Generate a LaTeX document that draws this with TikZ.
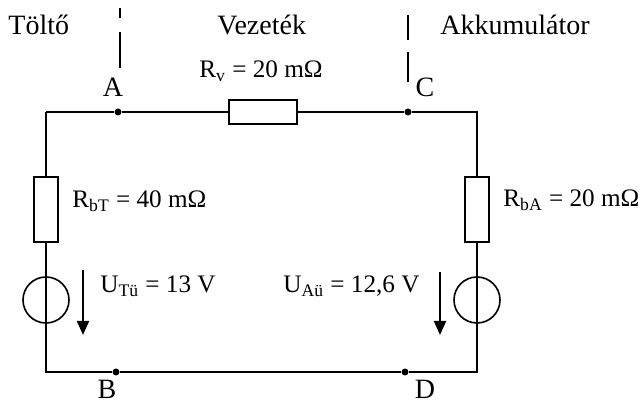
\documentclass[tikz,border=0pt]{standalone}
\usepackage{fontspec}
\setmainfont{Liberation Serif}
\usetikzlibrary{arrows.meta,positioning}
\tikzset{
  wire/.style={line width=1pt},
  res/.style={ % resistor box
    draw, rectangle, line width=0.8pt, fill=white, inner sep=0pt
  },
  hres/.style={res, minimum width=34pt, minimum height=12pt},
  vres/.style={res, minimum width=12pt, minimum height=32.5pt},
  source/.style={ % ideal voltage source
    draw, circle, line width=0.8pt, minimum size=23pt, inner sep=0pt
  },
  junction/.style={circle, fill=black, minimum size=3.5pt, inner sep=0pt},
  lbl/.style={inner sep=0pt, font=\fontsize{14}{16}\selectfont},
  vlbl/.style={inner sep=0pt, font=\fontsize{12.6}{15}\selectfont},
  uarrow/.style={line width=1pt, -{Triangle[length=7pt,width=6pt]}},
  divider/.style={line width=0.6pt}
}

\begin{document}
\begin{tikzpicture}[x=0.5pt, y=-0.5pt]
  \useasboundingbox (0,0) rectangle (643,405);

  % corners of the loop
  \coordinate (tl) at (46,112);
  \coordinate (tr) at (477,112);
  \coordinate (bl) at (46,372);
  \coordinate (br) at (477,372);

  \node[junction] (A) at (118,112) {};
  \node[junction] (C) at (408,112) {};
  \node[junction] (B) at (116,372) {};
  \node[junction] (D) at (405,372) {};

  \node[hres] (Rv) at (263,112) {};
  \node[vres] (RbT) at (46,209.5) {};
  \node[vres] (RbA) at (477,209.5) {};
  \node[source] (UT) at (46,300) {};
  \node[source] (UA) at (477,300) {};

  \draw[wire] (tl) -- (A) -- (Rv) -- (C) -- (tr) -- (RbA);
  \draw[wire] (RbA) -- (br) -- (D) -- (B) -- (bl) -- (RbT);
  \draw[wire] (RbT) -- (tl);

  % voltage arrows
  \coordinate (uT1) at (83,270);
  \coordinate (uT2) at (83,335);
  \coordinate (uA1) at (440,272);
  \coordinate (uA2) at (440,335);
  \draw[uarrow] (uT1) -- (uT2);
  \draw[uarrow] (uA1) -- (uA2);

  % section dividers
  \draw[divider] (120,8) -- (120,18) (120,32) -- (120,68);
  \draw[divider] (408,15) -- (408,40) (408,52) -- (408,82);

  \node[lbl, anchor=base west] (toltolbl) at (8,35) {Töltő};
  \node[lbl, anchor=base west] (vezlbl) at (217,35) {Vezeték};
  \node[lbl, anchor=base west] (akkulbl) at (440,35) {Akkumulátor};

  \node[lbl, anchor=base] (a_label) at (113,97) {A};
  \node[lbl, anchor=base] (c_label) at (425,97) {C};
  \node[lbl, anchor=base] (b_label) at (107,399) {B};
  \node[lbl, anchor=base] (d_label) at (425,399) {D};

  \node[vlbl, anchor=base west] (rv_label) at (199,78) {R\textsubscript{v} = 20 mΩ};
  \node[vlbl, anchor=base west] (rbt_label) at (72,208) {R\textsubscript{bT} = 40 mΩ};
  \node[vlbl, anchor=base west] (rba_label) at (503,207) {R\textsubscript{bA} = 20 mΩ};
  \node[vlbl, anchor=base west] (ut_label) at (100,293) {U\textsubscript{Tü} = 13 V};
  \node[vlbl, anchor=base west] (ua_label) at (283,293) {U\textsubscript{Aü} = 12,6 V};
\end{tikzpicture}
\end{document}
